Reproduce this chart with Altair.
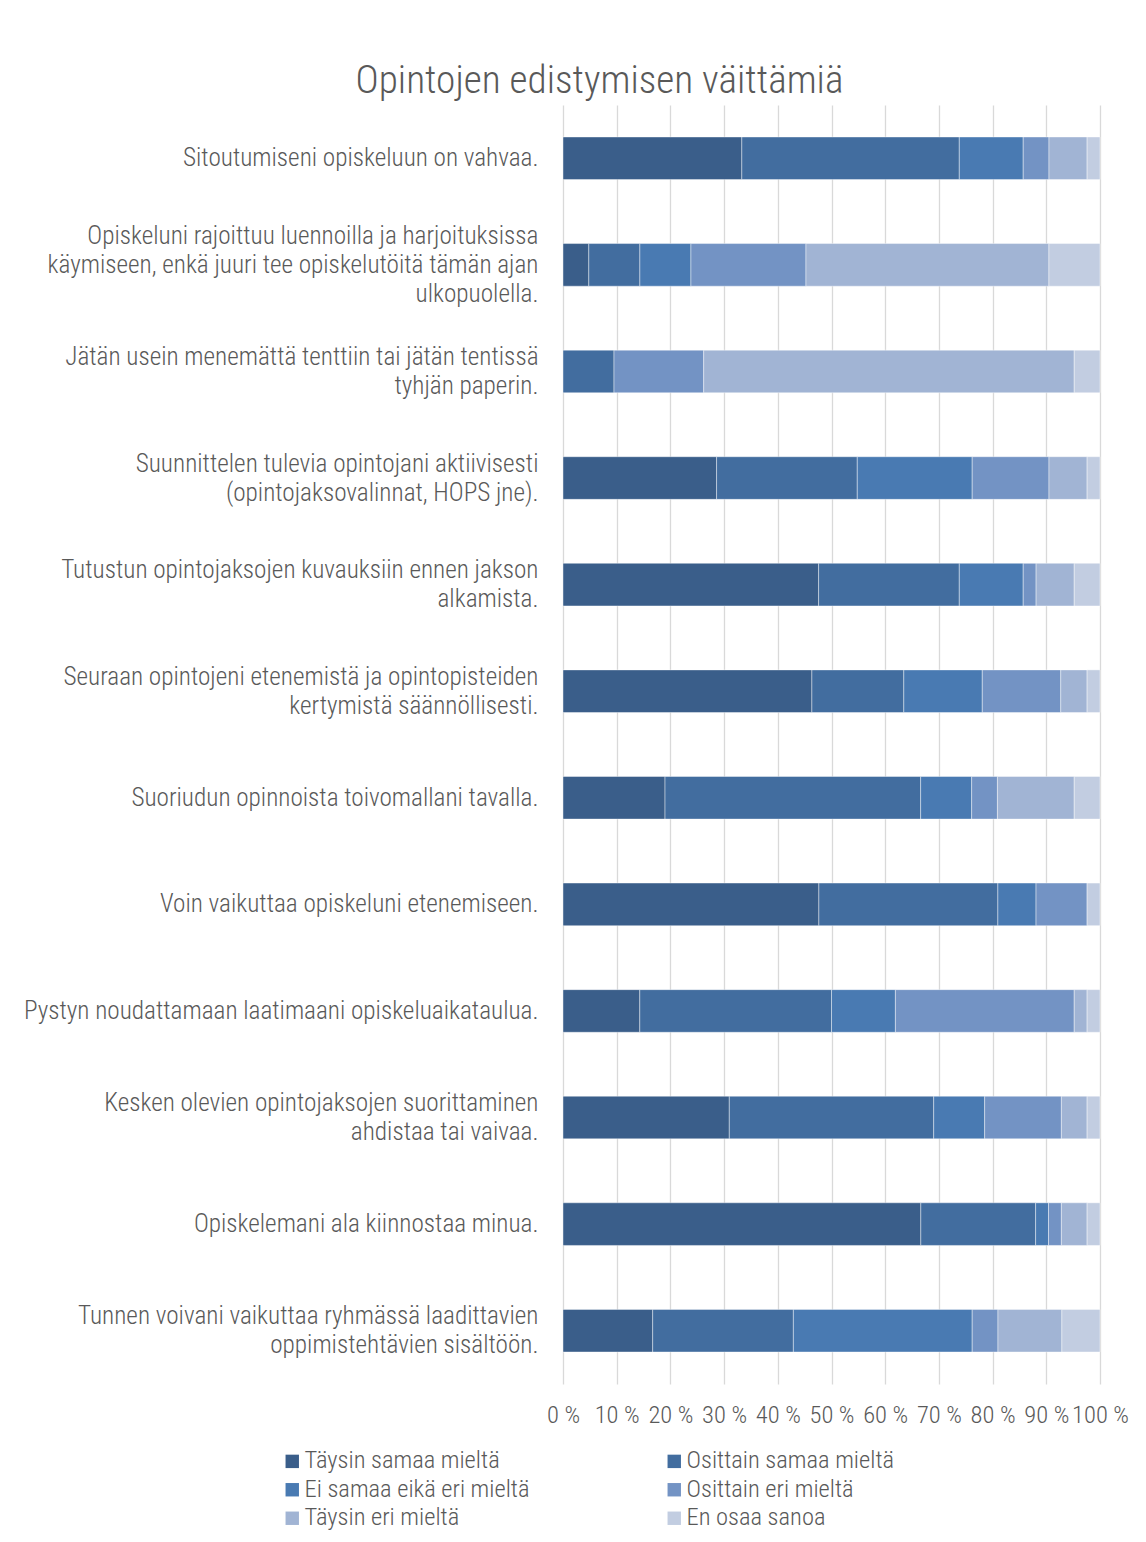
import altair as alt
import pandas as pd

statements = [
    "Sitoutumiseni opiskeluun on vahvaa.",
    "Opiskeluni rajoittuu luennoilla ja harjoituksissa|käymiseen, enkä juuri tee opiskelutöitä tämän ajan|ulkopuolella.",
    "Jätän usein menemättä tenttiin tai jätän tentissä|tyhjän paperin.",
    "Suunnittelen tulevia opintojani aktiivisesti|(opintojaksovalinnat, HOPS jne).",
    "Tutustun opintojaksojen kuvauksiin ennen jakson|alkamista.",
    "Seuraan opintojeni etenemistä ja opintopisteiden|kertymistä säännöllisesti.",
    "Suoriudun opinnoista toivomallani tavalla.",
    "Voin vaikuttaa opiskeluni etenemiseen.",
    "Pystyn noudattamaan laatimaani opiskeluaikataulua.",
    "Kesken olevien opintojaksojen suorittaminen|ahdistaa tai vaivaa.",
    "Opiskelemani ala kiinnostaa minua.",
    "Tunnen voivani vaikuttaa ryhmässä laadittavien|oppimistehtävien sisältöön.",
]

series = [
    "Täysin samaa mieltä",
    "Osittain samaa mieltä",
    "Ei samaa eikä eri mieltä",
    "Osittain eri mieltä",
    "Täysin eri mieltä",
    "En osaa sanoa",
]
colors = ["#3a5e8a", "#426d9f", "#497ab2", "#7393c4", "#a1b4d4", "#c2cde1"]

# percentages per statement (in the order of `statements`)
taysin_samaa = [33.3, 4.8, 0.0, 28.6, 47.6, 46.3, 19.0, 47.6, 14.3, 31.0, 66.7, 16.7]
osittain_samaa = [40.5, 9.5, 9.5, 26.2, 26.2, 17.1, 47.6, 33.3, 35.7, 38.1, 21.4, 26.2]
ei_samaa_eika_eri = [11.9, 9.5, 0.0, 21.4, 11.9, 14.6, 9.5, 7.1, 11.9, 9.5, 2.4, 33.3]
osittain_eri = [4.8, 21.4, 16.7, 14.3, 2.4, 14.6, 4.8, 9.5, 33.3, 14.3, 2.4, 4.8]
taysin_eri = [7.1, 45.2, 69.0, 7.1, 7.1, 4.9, 14.3, 0.0, 2.4, 4.8, 4.8, 11.9]
en_osaa = [2.4, 9.5, 4.8, 2.4, 4.8, 2.4, 4.8, 2.4, 2.4, 2.4, 2.4, 7.1]

values = [taysin_samaa, osittain_samaa, ei_samaa_eika_eri, osittain_eri, taysin_eri, en_osaa]

rows = []
for si, (name, vals) in enumerate(zip(series, values)):
    for st, v in zip(statements, vals):
        if v > 0:
            rows.append({"statement": st, "series": name, "value": v, "order": si})
df = pd.DataFrame(rows)

FONT = "Roboto Condensed, Liberation Sans Narrow, DejaVu Sans Condensed, Roboto, sans-serif"
TXT = "#595959"
FS = 24.5

chart = (
    alt.Chart(df)
    .mark_bar(stroke="white", strokeWidth=0.7, strokeOpacity=0.6)
    .encode(
        x=alt.X(
            "value:Q",
            stack="normalize",
            scale=alt.Scale(domain=[0, 1], nice=False),
            axis=alt.Axis(
                values=[i / 10 for i in range(11)],
                labelExpr="round(datum.value * 100) + ' %'",
                labelOverlap=False,
                labelFlush=False,
                title=None,
                grid=True,
                gridColor="#d9d9d9",
                gridWidth=1.3,
                domain=False,
                ticks=False,
                labelPadding=19,
                labelFont=FONT,
                labelFontSize=FS,
                labelFontWeight=300,
                labelColor=TXT,
            ),
        ),
        y=alt.Y(
            "statement:N",
            sort=statements,
            scale=alt.Scale(paddingInner=0.6, paddingOuter=0.3),
            axis=alt.Axis(
                title=None,
                domain=False,
                ticks=False,
                grid=False,
                labelExpr="split(datum.label, '|')",
                labelPadding=25,
                labelLimit=1000,
                labelFont=FONT,
                labelFontSize=25.2,
                labelFontWeight=300,
                labelLineHeight=29,
                labelColor=TXT,
                labelAlign="right",
                labelOffset={
                    "condition": [
                        {"test": "length(split(datum.label, '|')) == 3", "value": -29},
                        {"test": "length(split(datum.label, '|')) == 2", "value": -14.5},
                    ],
                    "value": 0,
                },
            ),
        ),
        color=alt.Color(
            "series:N",
            scale=alt.Scale(domain=series, range=colors),
            legend=alt.Legend(
                title=None,
                orient="none",
                direction="horizontal",
                legendX=-283,
                legendY=1344,
                columns=2,
                columnPadding=132,
                rowPadding=3.5,
                symbolType="square",
                symbolSize=180,
                symbolStrokeWidth=0,
                symbolOffset=0,
                labelOffset=0,
                labelFont=FONT,
                labelFontSize=FS,
                labelFontWeight=300,
                labelColor=TXT,
                labelLimit=1000,
            ),
        ),
        order=alt.Order("order:Q", sort="ascending"),
    )
    .properties(
        width=537,
        height=1279,
        title=alt.TitleParams(
            "Opintojen edistymisen väittämiä",
            font=FONT,
            fontSize=39.3,
            fontWeight=300,
            color=TXT,
            anchor="middle",
            dx=-232,
            offset=4,
        ),
        autosize=alt.AutoSizeParams(type="none"),
        padding={"left": 555, "top": 97, "right": 30, "bottom": 154},
    )
    .configure_view(stroke=None)
)

chart.save("out.html", embed_options={"renderer": "svg", "actions": False})
